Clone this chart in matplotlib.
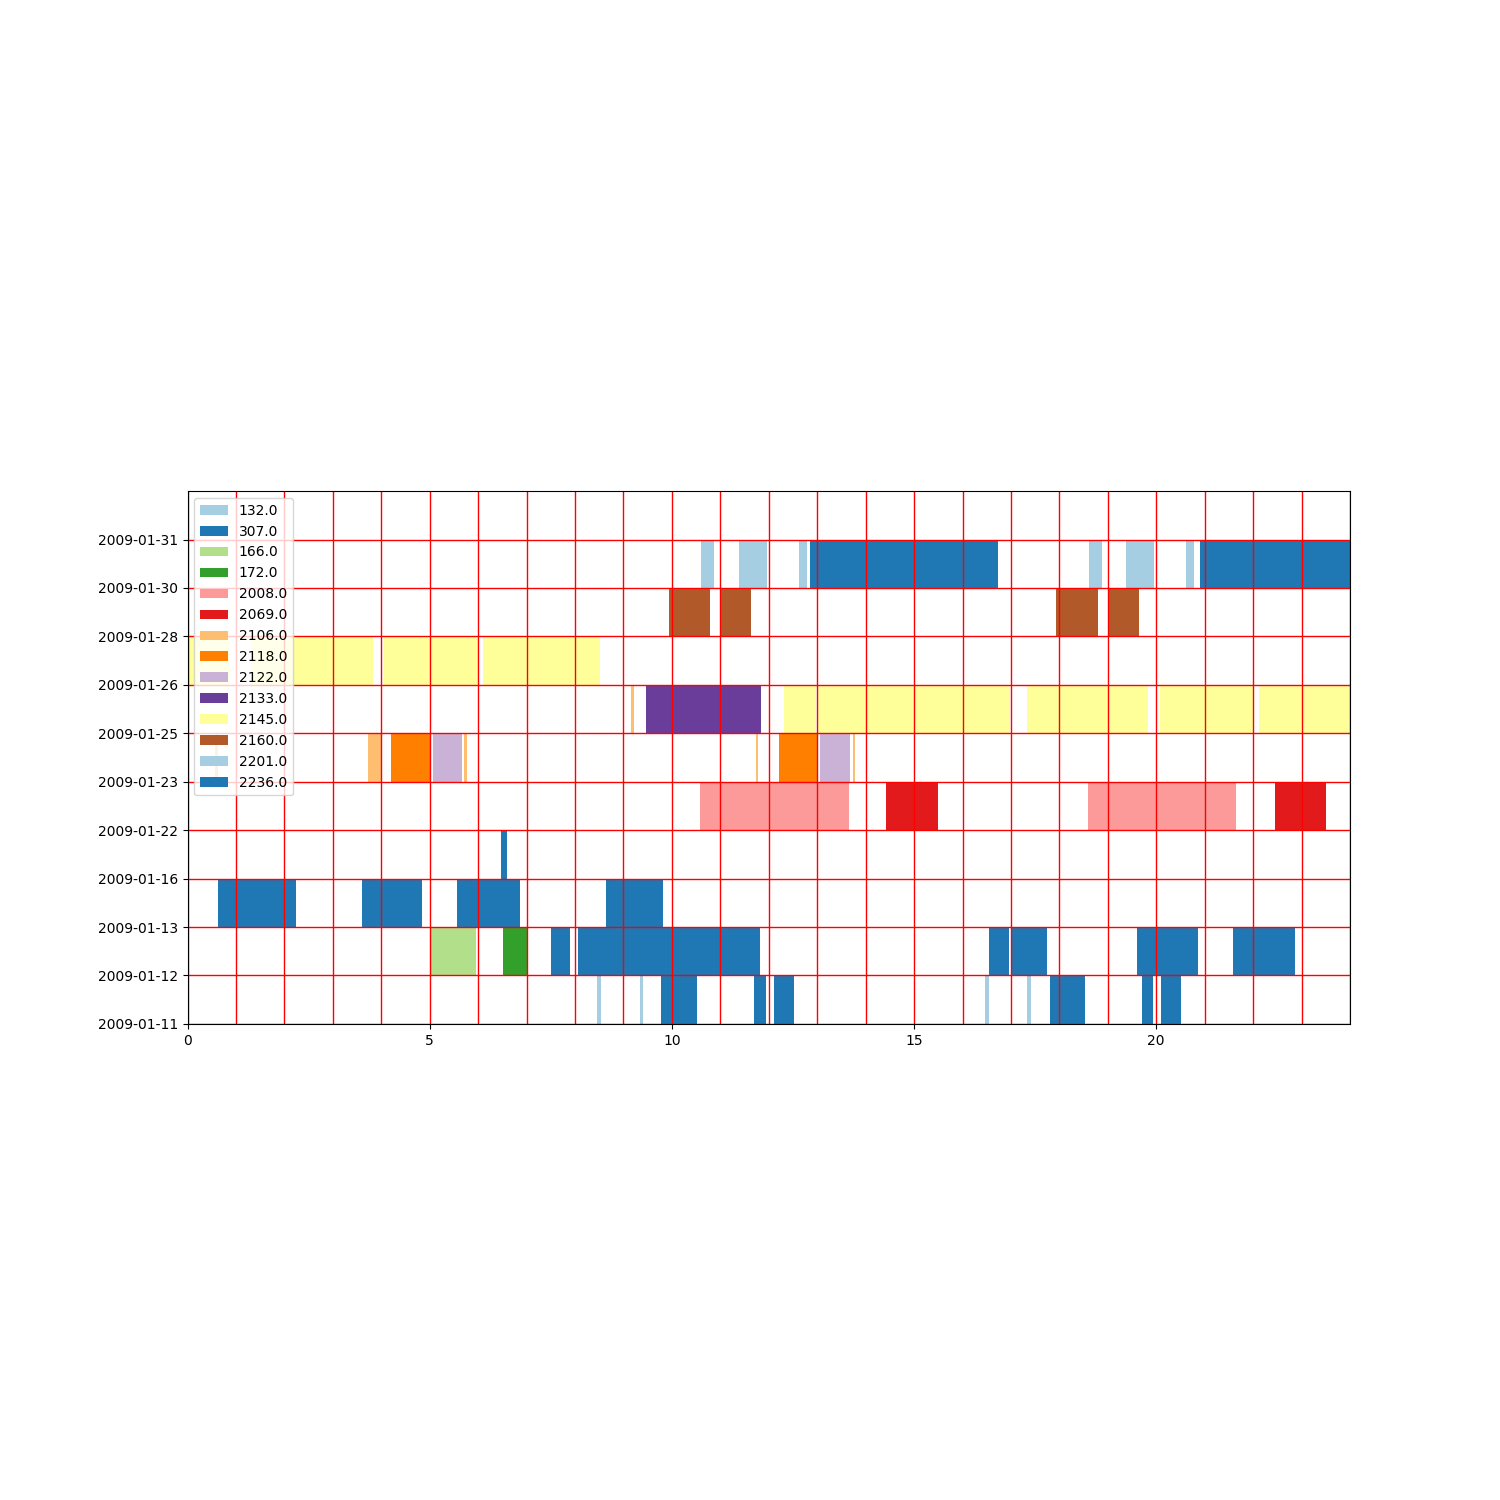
import matplotlib
matplotlib.use("Agg")
import matplotlib.pyplot as plt

dates = ["2009-01-11", "2009-01-12", "2009-01-13", "2009-01-16", "2009-01-22",
         "2009-01-23", "2009-01-25", "2009-01-26", "2009-01-28", "2009-01-30",
         "2009-01-31"]

phones = ["132.0", "307.0", "166.0", "172.0", "2008.0", "2069.0", "2106.0",
          "2118.0", "2122.0", "2133.0", "2145.0", "2160.0", "2201.0", "2236.0"]

# (phone, row index into dates, list of (start_hour, end_hour))
seg_132 = ("132.0", 0, [(8.46, 8.53), (9.34, 9.40), (16.47, 16.54), (17.34, 17.41)])
seg_307_r0 = ("307.0", 0, [(9.78, 10.51), (11.70, 11.94), (12.10, 12.52),
                           (17.80, 18.53), (19.71, 19.93), (20.09, 20.51)])
seg_307_r1 = ("307.0", 1, [(7.51, 7.89), (8.06, 11.81), (16.54, 16.96),
                           (17.03, 17.75), (19.61, 20.86), (21.58, 22.86)])
seg_307_r2 = ("307.0", 2, [(0.62, 2.23), (3.61, 4.85), (5.57, 6.86), (8.63, 9.81)])
seg_307_r3 = ("307.0", 3, [(6.48, 6.59)])
seg_166 = ("166.0", 1, [(5.01, 5.96)])
seg_172 = ("172.0", 1, [(6.51, 7.01)])
seg_2008 = ("2008.0", 4, [(10.59, 13.65), (18.59, 21.65)])
seg_2069 = ("2069.0", 4, [(14.43, 15.49), (22.45, 23.50)])
seg_2106 = ("2106.0", 5, [(0.56, 0.63), (3.72, 3.99), (5.71, 5.78),
                          (11.73, 11.77), (13.73, 13.78)])
seg_2106_r6 = ("2106.0", 6, [(9.16, 9.21)])
seg_2118 = ("2118.0", 5, [(4.21, 5.00), (12.21, 13.00)])
seg_2122 = ("2122.0", 5, [(5.06, 5.66), (13.05, 13.67)])
seg_2133 = ("2133.0", 6, [(9.47, 11.83)])
seg_2145_r6 = ("2145.0", 6, [(12.31, 12.98), (13.02, 16.98), (17.33, 19.83),
                             (20.08, 22.00), (22.12, 24.00)])
seg_2145_r7 = ("2145.0", 7, [(0.00, 0.86), (1.31, 3.82), (4.06, 5.99), (6.11, 8.51)])
seg_2160 = ("2160.0", 8, [(9.94, 10.78), (11.02, 11.63), (17.93, 18.80), (19.00, 19.64)])
seg_2201 = ("2201.0", 9, [(10.61, 10.86), (11.38, 11.96), (12.62, 12.79),
                          (18.61, 18.88), (19.37, 19.95), (20.61, 20.78)])
seg_2236 = ("2236.0", 9, [(12.85, 16.73), (20.90, 24.00)])

segments = [seg_132, seg_307_r0, seg_307_r1, seg_307_r2, seg_307_r3, seg_166,
            seg_172, seg_2008, seg_2069, seg_2106, seg_2106_r6, seg_2118,
            seg_2122, seg_2133, seg_2145_r6, seg_2145_r7, seg_2160, seg_2201,
            seg_2236]

fig = plt.figure(figsize=(15, 15), dpi=100)
ax = fig.add_subplot(111)

labelled = set()
for phone, row, ranges in segments:
    color = plt.cm.Paired(phones.index(phone) % 12)
    xr = [(a, b - a) for a, b in ranges]
    lab = phone if phone not in labelled else None
    labelled.add(phone)
    ax.broken_barh(xr, (row, 1), facecolors=color, label=lab)

ax.set_xlim(0, 24)
ax.set_ylim(0, len(dates))
ax.set_yticks(range(len(dates)))
ax.set_yticklabels(dates)
ax.set_xticks([0, 5, 10, 15, 20])
ax.set_xticks(range(25), minor=True)
ax.tick_params(axis='x', which='minor', length=0)
ax.grid(which='both', color='r', linewidth=1.0)
ax.set_aspect('equal')

handles, labels = ax.get_legend_handles_labels()
order = [labels.index(p) for p in phones]
ax.legend([handles[i] for i in order], [labels[i] for i in order], loc='upper left')

fig.savefig("out.png", dpi=100)
